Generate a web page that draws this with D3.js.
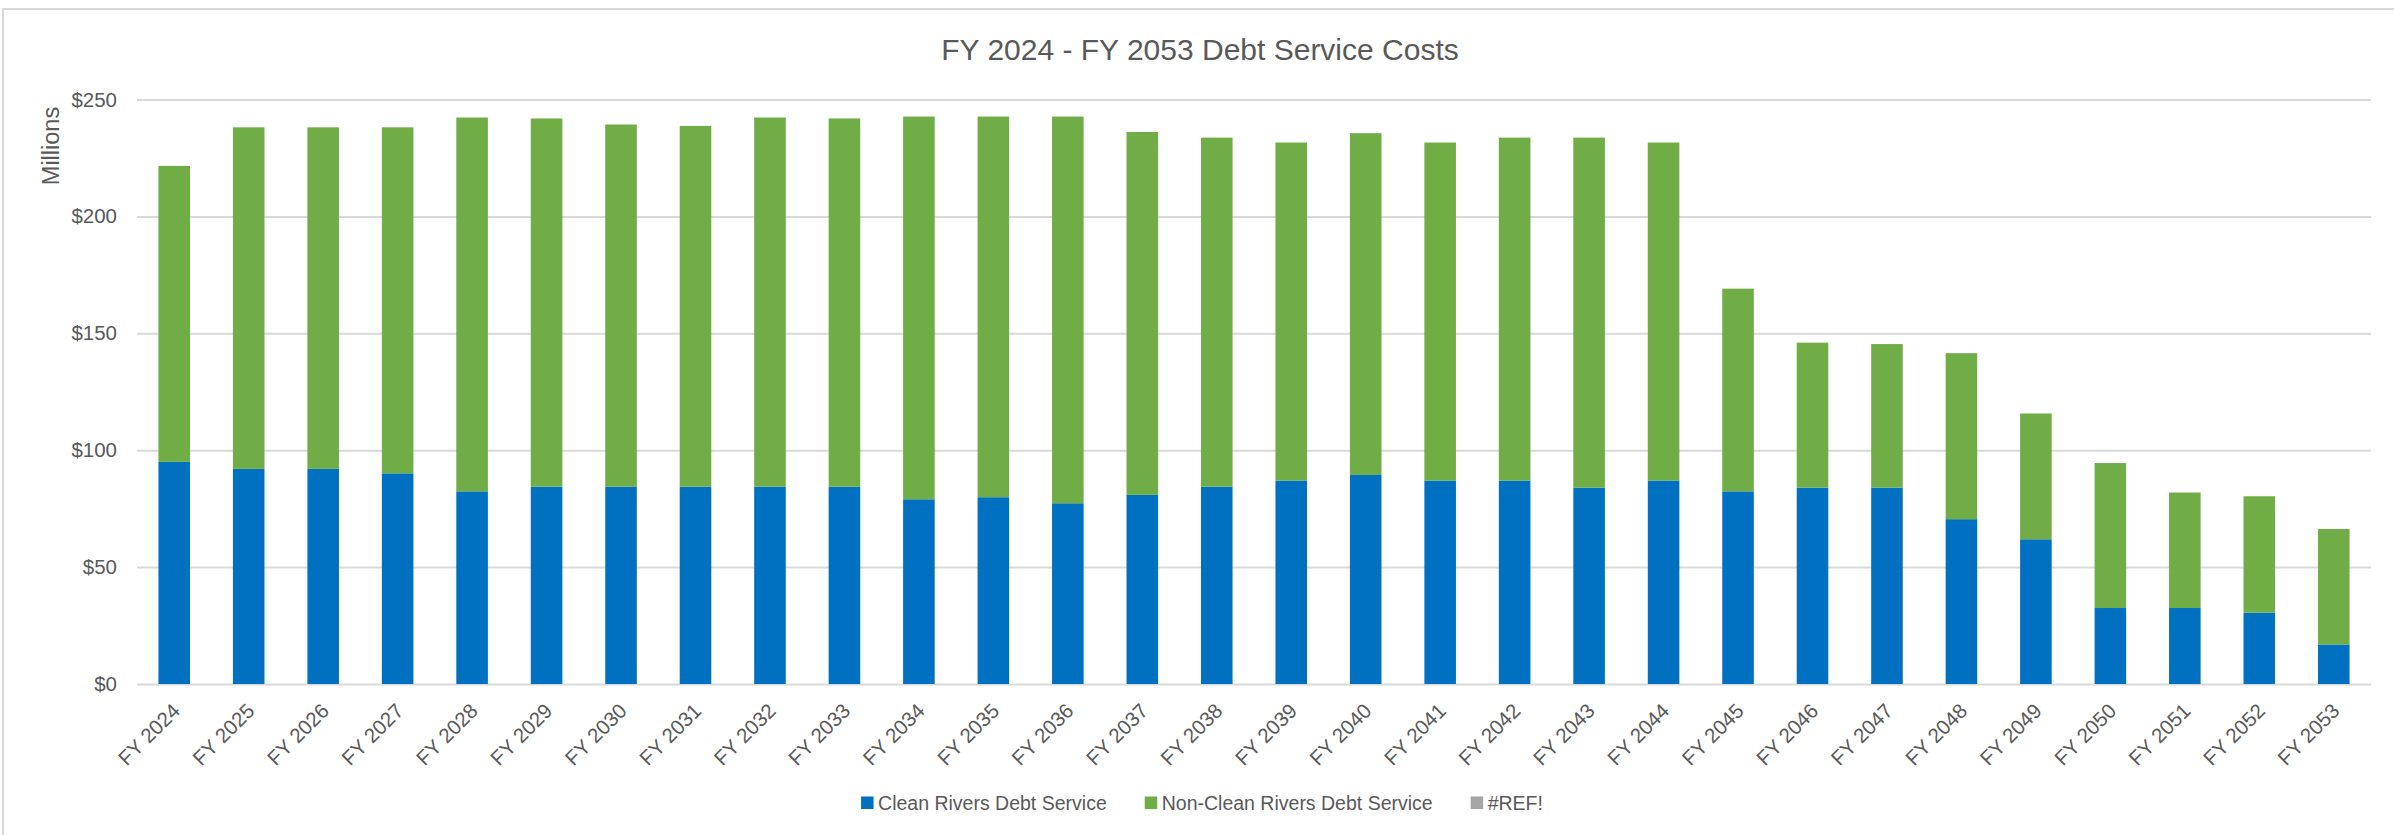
<!DOCTYPE html>
<html lang="en">
<head>
    <meta charset="UTF-8">
    <title>FY 2024 - FY 2053 Debt Service Costs</title>
    <script src="https://d3js.org/d3.v7.min.js"></script>
    <style>
        body {
            margin: 0;
            background: #fff;
            font-family: "Liberation Sans", Arial, sans-serif;
        }
        svg { display: block; }
        .grid line { stroke: #d9d9d9; stroke-width: 2; }
        .grid path { display: none; }
        .tick text { fill: #595959; }
    </style>
</head>
<body>
<script>
    // chart data (millions of dollars)
    const years = ["FY 2024", "FY 2025", "FY 2026", "FY 2027", "FY 2028", "FY 2029", "FY 2030",
        "FY 2031", "FY 2032", "FY 2033", "FY 2034", "FY 2035", "FY 2036", "FY 2037", "FY 2038",
        "FY 2039", "FY 2040", "FY 2041", "FY 2042", "FY 2043", "FY 2044", "FY 2045", "FY 2046",
        "FY 2047", "FY 2048", "FY 2049", "FY 2050", "FY 2051", "FY 2052", "FY 2053"];
    const cleanRivers = [95.0, 92.0, 92.0, 90.1, 82.4, 84.4, 84.4, 84.4, 84.4, 84.4, 79.0, 79.9,
        77.3, 80.9, 84.4, 87.0, 89.4, 87.0, 87.0, 84.0, 87.0, 82.4, 84.0, 84.0, 70.5, 61.9,
        32.5, 32.5, 30.5, 16.9];
    const nonCleanRivers = [126.6, 146.1, 146.1, 148.0, 159.9, 157.5, 154.9, 154.3, 157.9, 157.5,
        163.7, 162.8, 165.4, 155.2, 149.3, 144.6, 146.2, 144.6, 146.7, 149.7, 144.6, 86.7, 62.0,
        61.4, 71.0, 53.8, 62.0, 49.4, 49.8, 49.4];
    const yTicks = [0, 50, 100, 150, 200, 250];
    const seriesNames = ["Clean Rivers Debt Service", "Non-Clean Rivers Debt Service", "#REF!"];
    const seriesColors = ["#0070c0", "#70ad47", "#a5a5a5"];

    const W = 2394, H = 835;
    const plotLeft = 137, plotRight = 2371, plotTop = 99.5, plotBottom = 684;

    const svg = d3.select("body").append("svg")
        .attr("width", W)
        .attr("height", H);

    // chart frame
    svg.append("rect")
        .attr("x", 3).attr("y", 9)
        .attr("width", W + 10).attr("height", H + 10)
        .attr("fill", "#fff")
        .attr("stroke", "#d9d9d9")
        .attr("stroke-width", 2);

    svg.append("text")
        .attr("x", 1200)
        .attr("y", 60)
        .attr("text-anchor", "middle")
        .attr("font-size", 30)
        .attr("fill", "#595959")
        .text("FY 2024 - FY 2053 Debt Service Costs");

    const rows = years.map((yr, i) => ({ year: yr, clean: cleanRivers[i], nonClean: nonCleanRivers[i] }));

    const x = d3.scaleBand()
        .domain(years)
        .range([plotLeft, plotRight])
        .paddingInner(0.576)
        .paddingOuter(0.288);

    const y = d3.scaleLinear()
        .domain([0, 250])
        .range([plotBottom, plotTop]);

    // gridlines + y labels
    const yAxis = svg.append("g")
        .attr("class", "grid")
        .attr("transform", `translate(${plotLeft},0)`)
        .call(d3.axisLeft(y)
            .tickValues(yTicks)
            .tickSize(-(plotRight - plotLeft))
            .tickPadding(20)
            .tickFormat(d => "$" + d));
    yAxis.selectAll("text")
        .attr("font-size", 20.5)
        .attr("font-family", "Liberation Sans, Arial, sans-serif");

    svg.append("text")
        .attr("transform", "translate(51,146) rotate(-90)")
        .attr("text-anchor", "middle")
        .attr("dominant-baseline", "central")
        .attr("font-size", 23.5)
        .attr("fill", "#595959")
        .text("Millions");

    // stacked bars
    const stack = d3.stack().keys(["clean", "nonClean"]);
    const layers = stack(rows);

    svg.append("g")
        .selectAll("g")
        .data(layers)
        .join("g")
        .attr("fill", (d, i) => seriesColors[i])
        .selectAll("rect")
        .data(d => d)
        .join("rect")
        .attr("x", d => x(d.data.year))
        .attr("y", d => y(d[1]))
        .attr("width", x.bandwidth())
        .attr("height", d => y(d[0]) - y(d[1]));

    // x labels
    const xAxis = svg.append("g")
        .attr("transform", `translate(0,${plotBottom})`)
        .call(d3.axisBottom(x).tickSize(0).tickPadding(0));
    xAxis.select(".domain").remove();
    xAxis.selectAll("text")
        .attr("font-size", 20.5)
        .attr("font-family", "Liberation Sans, Arial, sans-serif")
        .attr("fill", "#595959")
        .attr("text-anchor", "end")
        .attr("dy", "0.35em")
        .attr("transform", "translate(2,23) rotate(-45)");

    // legend, centred under the chart
    const legend = svg.append("g").attr("transform", "translate(0,803)");
    const items = legend.selectAll("g")
        .data(seriesNames)
        .join("g");
    items.append("rect")
        .attr("y", -6.5)
        .attr("width", 12.5)
        .attr("height", 12.5)
        .attr("fill", (d, i) => seriesColors[i]);
    items.append("text")
        .attr("x", 17)
        .attr("dominant-baseline", "central")
        .attr("font-size", 19.5)
        .attr("fill", "#595959")
        .text(d => d);

    const gap = 38;
    const widths = [];
    items.each(function () {
        widths.push(17 + d3.select(this).select("text").node().getComputedTextLength());
    });
    const total = d3.sum(widths) + gap * (widths.length - 1);
    let cx = 1202 - total / 2;
    items.attr("transform", (d, i) => {
        const t = `translate(${cx},0)`;
        cx += widths[i] + gap;
        return t;
    });
</script>
</body>
</html>
